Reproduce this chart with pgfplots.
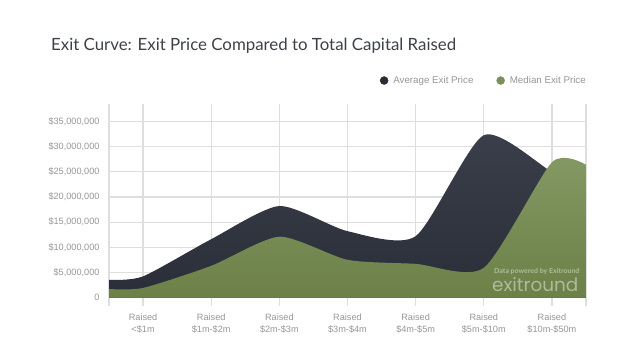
\documentclass[border=0pt]{standalone}
\usepackage{pgfplots}
\pgfplotsset{compat=1.18}
\usepackage{fontspec}
\setmainfont{Liberation Sans}
\newfontfamily\latofont{Lato}
\newfontfamily\popfont{Poppins}
\definecolor{darkA}{RGB}{58,63,75}
\definecolor{darkB}{RGB}{42,46,56}
\definecolor{greenA}{RGB}{132,153,100}
\definecolor{greenB}{RGB}{108,128,72}
\definecolor{gridc}{RGB}{222,222,222}
\definecolor{tickc}{RGB}{150,150,150}
\definecolor{titlec}{RGB}{60,64,72}
\definecolor{dotdark}{RGB}{40,44,54}
\definecolor{dotgreen}{RGB}{120,144,90}

\pgfplotstableread{
x y
-0.5 3.5e6
0 4.2e6
1 11.6e6
2 18.2e6
3 13.2e6
4 12.2e6
5 32.3e6
6 25.0e6
6.5 22.5e6
}\avgdata
\pgfplotstableread{
x y
-0.5 1.7e6
0 1.9e6
1 6.3e6
2 12.1e6
3 7.5e6
4 6.7e6
5 5.9e6
6 26.9e6
6.5 26.4e6
}\meddata

\begin{document}
\begin{tikzpicture}
\path[use as bounding box] (0,0) rectangle (640bp,-353bp);
\begin{axis}[
  at={(109bp,-297.5bp)}, anchor=south west,
  scale only axis, width=477bp, height=193.5bp,
  xmin=-0.5, xmax=6.5, ymin=0, ymax=38.5e6,
  xtick={-0.5,0,1,2,3,4,5,6,6.5},
  xticklabels={{},{Raised\\<\$1m},{Raised\\\$1m-\$2m},{Raised\\\$2m-\$3m},{Raised\\\$3m-\$4m},{Raised\\\$4m-\$5m},{Raised\\\$5m-\$10m},{Raised\\\$10m-\$50m},{}},
  xticklabel style={align=center, font=\fontsize{9.2}{12}\selectfont, text=tickc, yshift=-4.5bp},
  ytick={0,5e6,10e6,15e6,20e6,25e6,30e6,35e6},
  yticklabels={0,{\$5,000,000},{\$10,000,000},{\$15,000,000},{\$20,000,000},{\$25,000,000},{\$30,000,000},{\$35,000,000}},
  yticklabel style={font=\fontsize{9.2}{10}\selectfont, text=tickc, xshift=2bp},
  scaled y ticks=false,
  axis line style={draw=none},
  grid=major, grid style={gridc, line width=1.2bp},
  xtick pos=left, tick align=outside, major tick length=8bp,
  xtick style={gridc, line width=1.2bp},
  ytick style={draw=none},
  legend columns=2,
  legend style={at={(1,1)}, anchor=south east, yshift=15bp, xshift=5bp, draw=none, fill=none,
    font=\fontsize{9.8}{12}\selectfont, text=tickc,
    /tikz/every even column/.append style={column sep=21bp}},
  legend cell align=left,
]
\addplot[draw=none, top color=darkA, bottom color=darkB, smooth, tension=0.4, forget plot] table {\avgdata} \closedcycle;
\addplot[draw=none, top color=greenA, bottom color=greenB, smooth, tension=0.4, forget plot] table {\meddata} \closedcycle;
\addlegendimage{legend image code/.code={\fill[dotdark] (0bp,0bp) circle (4bp); \path (7bp,0bp);}}
\addlegendentry{Average Exit Price}
\addlegendimage{legend image code/.code={\fill[dotgreen] (0bp,0bp) circle (4bp); \path (7bp,0bp);}}
\addlegendentry{Median Exit Price}
\end{axis}
\node[anchor=base west, font=\latofont\fontsize{16.9}{20}\selectfont, text=titlec, inner sep=0] at (51bp,-50.7bp) {Exit Curve: Exit Price Compared to Total Capital Raised};
\node[anchor=base west, font=\latofont\bfseries\fontsize{7}{8}\selectfont, text=white, opacity=0.45, inner sep=0] at (494bp,-273.5bp) {Data powered by Exitround};
\node[anchor=base west, font=\popfont\fontsize{18.5}{20}\selectfont, text=white, opacity=0.45, inner sep=0] at (492bp,-291bp) {exitround};
\end{tikzpicture}
\end{document}
